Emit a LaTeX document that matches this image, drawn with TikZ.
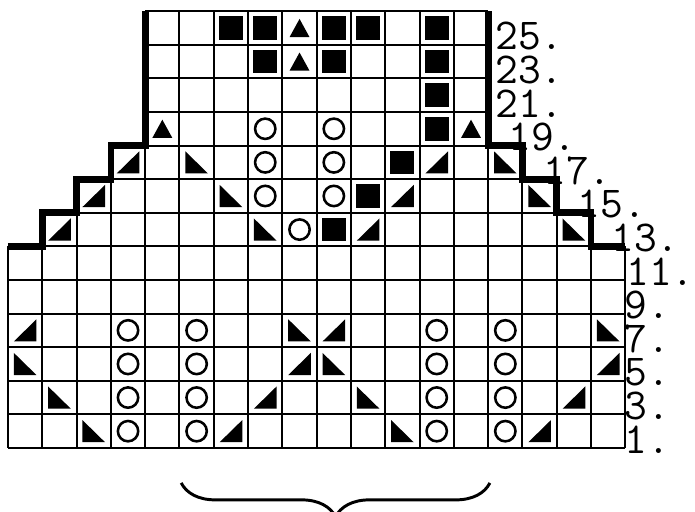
\documentclass[tikz,border=0pt]{standalone}
\usetikzlibrary{decorations.pathreplacing}

\begin{document}
\begin{tikzpicture}[
    x=0.9cm, y=0.8816cm,
    gridline/.style={line width=1.5pt, color=black},
    outline/.style={line width=5pt, color=black},
    yarnover/.style={line width=1.9pt, color=black},
    rowlabel/.style={anchor=base west, inner sep=0pt, font=\fontsize{33}{33}\selectfont\ttfamily},
    repbrace/.style={decorate, decoration={brace, mirror, amplitude=0.89cm}, line width=2.2pt}
]

\useasboundingbox (-0.233,-1.905) rectangle (20.03,13.333);

% Grid, row by row (row index, first column, last edge)
\foreach \r/\a/\b in {0/0/18, 1/0/18, 2/0/18, 3/0/18, 4/0/18, 5/0/18,
                      6/1/17, 7/2/16, 8/3/15, 9/4/14, 10/4/14, 11/4/14, 12/4/14}
  \draw[gridline, step=1] (\a,\r) grid (\b,\r+1);

% Shaping steps
\draw[outline] (0,6) -| (1,7) -| (2,8) -| (3,9) -| (4,13);
\draw[outline] (14,13) |- (15,9) |- (16,8) |- (17,7) |- (18,6);

% Left-leaning decreases
\foreach \c/\r in {2/0, 11/0, 1/1, 10/1, 0/2, 9/2, 8/3, 17/3,
                   7/6, 16/6, 6/7, 15/7, 5/8, 14/8}
  \fill (\c+0.17,\r+0.17) -- (\c+0.17,\r+0.83) -- (\c+0.83,\r+0.17) -- cycle;

% Right-leaning decreases
\foreach \c/\r in {6/0, 15/0, 7/1, 16/1, 8/2, 17/2, 0/3, 9/3,
                   1/6, 10/6, 2/7, 11/7, 3/8, 12/8}
  \fill (\c+0.17,\r+0.17) -- (\c+0.83,\r+0.17) -- (\c+0.83,\r+0.83) -- cycle;

% Yarn overs
\foreach \c/\r in {3/0, 5/0, 12/0, 14/0, 3/1, 5/1, 12/1, 14/1,
                   3/2, 5/2, 12/2, 14/2, 3/3, 5/3, 12/3, 14/3,
                   8/6, 7/7, 9/7, 7/8, 9/8, 7/9, 9/9}
  \draw[yarnover] (\c+0.5,\r+0.5) circle[radius=0.267cm];

% Filled squares
\foreach \c/\r in {9/6, 10/7, 11/8, 12/9, 12/10, 7/11, 9/11, 12/11,
                   6/12, 7/12, 9/12, 10/12, 12/12}
  \fill (\c+0.15,\r+0.15) rectangle (\c+0.85,\r+0.85);

% Double decreases
\foreach \c/\r in {4/9, 13/9, 8/11, 8/12}
  \fill (\c+0.21,\r+0.23) -- (\c+0.79,\r+0.23) -- (\c+0.5,\r+0.77) -- cycle;

% Row numbers
\foreach \r/\x/\n in {0/17.98/1, 1/17.98/3, 2/17.98/5, 3/17.98/7, 4/17.98/9,
                      5/18.02/11, 6/17.58/13, 7/16.6/15, 8/15.6/17, 9/14.58/19,
                      10/14.2/21, 11/14.2/23, 12/14.2/25}
  \node[rowlabel] (row\n) at (\x,\r-0.15) {\n.};

% Pattern repeat
\coordinate (repL) at (5.05,-1.04);
\coordinate (repR) at (14.05,-1.04);
\draw[repbrace] (repL) -- (repR);

\end{tikzpicture}
\end{document}
